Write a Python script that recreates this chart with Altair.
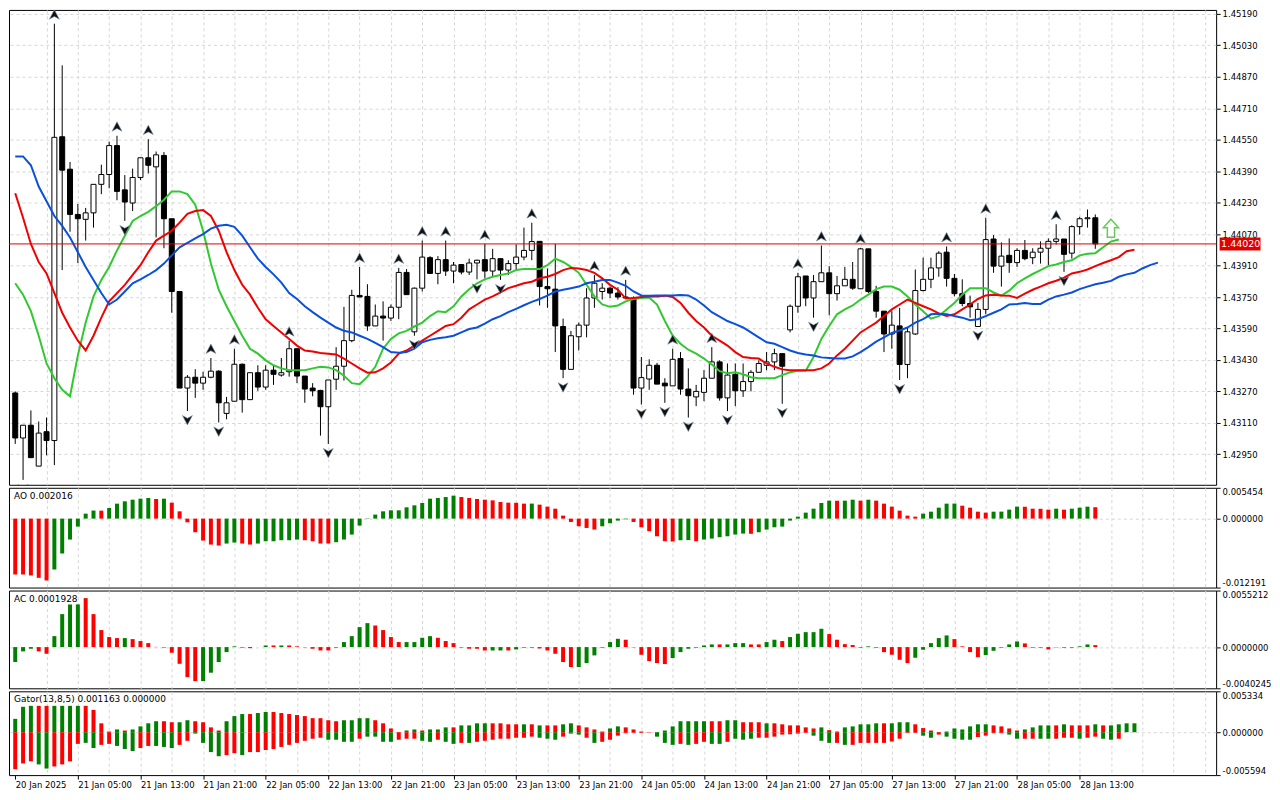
import json
import altair as alt
import pandas as pd

# ------------------------------------------------------------------ data
opens = [1.43262, 1.43033, 1.43098, 1.42890, 1.43065, 1.43020, 1.44565, 1.44400, 1.44170, 1.44145,
         1.44178, 1.44323, 1.44373, 1.44520, 1.44295, 1.44228, 1.44358, 1.44458, 1.44412, 1.44470,
         1.44148, 1.43778, 1.43287, 1.43342, 1.43312, 1.43342, 1.43373, 1.43158, 1.43220, 1.43408,
         1.43228, 1.43365, 1.43292, 1.43378, 1.43353, 1.43370, 1.43487, 1.43348, 1.43287, 1.43275,
         1.43192, 1.43332, 1.43398, 1.43528, 1.43758, 1.43753, 1.43603, 1.43653, 1.43643, 1.43698,
         1.43875, 1.43573, 1.43795, 1.43950, 1.43870, 1.43940, 1.43882, 1.43915, 1.43877, 1.43923,
         1.43940, 1.43882, 1.43945, 1.43887, 1.43920, 1.43953, 1.43987, 1.44033, 1.43803, 1.43790,
         1.43600, 1.43382, 1.43548, 1.43607, 1.43745, 1.43778, 1.43795, 1.43770, 1.43750, 1.43745,
         1.43287, 1.43333, 1.43403, 1.43312, 1.43298, 1.43437, 1.43282, 1.43242, 1.43265, 1.43337,
         1.43420, 1.43237, 1.43357, 1.43273, 1.43320, 1.43367, 1.43403, 1.43420, 1.43462, 1.43583,
         1.43703, 1.43857, 1.43745, 1.43828, 1.43873, 1.43767, 1.43807, 1.43840, 1.43792, 1.43995,
         1.43778, 1.43678, 1.43562, 1.43603, 1.43407, 1.43562, 1.43783, 1.43840, 1.43898, 1.43978,
         1.43845, 1.43767, 1.43717, 1.43600, 1.43687, 1.44045, 1.43907, 1.43962, 1.43925, 1.43987,
         1.43950, 1.43978, 1.43998, 1.44033, 1.44045, 1.43973, 1.44108, 1.44148, 1.44153]
highs = [1.43270, 1.43098, 1.43173, 1.43117, 1.43137, 1.45140, 1.44928, 1.44437, 1.44223, 1.44203,
         1.44323, 1.44423, 1.44540, 1.44570, 1.44370, 1.44403, 1.44458, 1.44553, 1.44490, 1.44487,
         1.44148, 1.43778, 1.43353, 1.43383, 1.43370, 1.43440, 1.43378, 1.43242, 1.43487, 1.43412,
         1.43365, 1.43403, 1.43403, 1.43403, 1.43440, 1.43528, 1.43487, 1.43348, 1.43312, 1.43278,
         1.43328, 1.43495, 1.43700, 1.43787, 1.43903, 1.43815, 1.43712, 1.43728, 1.43712, 1.43898,
         1.43892, 1.43798, 1.44037, 1.43958, 1.43958, 1.44037, 1.43928, 1.43915, 1.43945, 1.43940,
         1.44020, 1.43995, 1.43945, 1.43937, 1.44017, 1.44103, 1.44128, 1.44033, 1.43895, 1.44020,
         1.43640, 1.43578, 1.43620, 1.43795, 1.43862, 1.43820, 1.43803, 1.43800, 1.43837, 1.43753,
         1.43445, 1.43433, 1.43415, 1.43337, 1.43487, 1.43470, 1.43387, 1.43303, 1.43378, 1.43495,
         1.43428, 1.43412, 1.43412, 1.43412, 1.43378, 1.43428, 1.43470, 1.43487, 1.43462, 1.43712,
         1.43873, 1.43857, 1.43862, 1.44012, 1.43907, 1.43857, 1.43903, 1.43928, 1.44000, 1.43995,
         1.43807, 1.43678, 1.43678, 1.43695, 1.43595, 1.43890, 1.43950, 1.43950, 1.43983, 1.44007,
         1.43867, 1.43840, 1.43757, 1.43720, 1.44153, 1.44065, 1.44028, 1.44048, 1.43998, 1.44040,
         1.43998, 1.44033, 1.44048, 1.44120, 1.44045, 1.44115, 1.44158, 1.44195, 1.44170]
lows = [1.43003, 1.42820, 1.42933, 1.42890, 1.42945, 1.42895, 1.43887, 1.44082, 1.43923, 1.44037,
        1.44103, 1.44273, 1.44303, 1.44242, 1.44137, 1.44187, 1.44345, 1.44378, 1.44053, 1.43998,
        1.43670, 1.43287, 1.43170, 1.43237, 1.43278, 1.43337, 1.43112, 1.43128, 1.43220, 1.43162,
        1.43228, 1.43273, 1.43278, 1.43303, 1.43345, 1.43345, 1.43312, 1.43212, 1.43245, 1.43045,
        1.43003, 1.43278, 1.43325, 1.43520, 1.43750, 1.43578, 1.43603, 1.43528, 1.43628, 1.43637,
        1.43762, 1.43553, 1.43778, 1.43867, 1.43815, 1.43857, 1.43820, 1.43865, 1.43862, 1.43840,
        1.43845, 1.43857, 1.43837, 1.43862, 1.43887, 1.43937, 1.43937, 1.43707, 1.43695, 1.43470,
        1.43337, 1.43382, 1.43478, 1.43545, 1.43695, 1.43737, 1.43745, 1.43737, 1.43740, 1.43253,
        1.43203, 1.43278, 1.43307, 1.43212, 1.43298, 1.43253, 1.43137, 1.43195, 1.43220, 1.43337,
        1.43223, 1.43170, 1.43195, 1.43242, 1.43270, 1.43367, 1.43378, 1.43378, 1.43207, 1.43570,
        1.43670, 1.43703, 1.43645, 1.43828, 1.43657, 1.43732, 1.43807, 1.43787, 1.43792, 1.43770,
        1.43645, 1.43470, 1.43487, 1.43328, 1.43337, 1.43557, 1.43778, 1.43795, 1.43853, 1.43803,
        1.43753, 1.43703, 1.43645, 1.43600, 1.43662, 1.43873, 1.43803, 1.43873, 1.43903, 1.43937,
        1.43917, 1.43920, 1.43912, 1.44017, 1.43878, 1.43945, 1.44067, 1.44103, 1.43995]
closes = [1.43033, 1.43098, 1.42933, 1.43058, 1.43020, 1.44562, 1.44395, 1.44170, 1.44148, 1.44178,
          1.44323, 1.44373, 1.44520, 1.44287, 1.44233, 1.44358, 1.44458, 1.44420, 1.44473, 1.44148,
          1.43778, 1.43287, 1.43342, 1.43312, 1.43342, 1.43373, 1.43212, 1.43212, 1.43408, 1.43228,
          1.43365, 1.43292, 1.43378, 1.43357, 1.43365, 1.43487, 1.43348, 1.43282, 1.43273, 1.43192,
          1.43328, 1.43398, 1.43528, 1.43758, 1.43750, 1.43603, 1.43653, 1.43643, 1.43698, 1.43875,
          1.43762, 1.43795, 1.43953, 1.43870, 1.43940, 1.43882, 1.43912, 1.43877, 1.43923, 1.43937,
          1.43882, 1.43945, 1.43887, 1.43920, 1.43953, 1.43987, 1.44032, 1.43803, 1.43792, 1.43603,
          1.43382, 1.43553, 1.43607, 1.43745, 1.43820, 1.43795, 1.43770, 1.43750, 1.43745, 1.43287,
          1.43340, 1.43403, 1.43307, 1.43298, 1.43433, 1.43282, 1.43248, 1.43270, 1.43337, 1.43420,
          1.43237, 1.43353, 1.43273, 1.43320, 1.43367, 1.43412, 1.43420, 1.43462, 1.43398, 1.43703,
          1.43853, 1.43745, 1.43828, 1.43873, 1.43767, 1.43807, 1.43840, 1.43795, 1.43995, 1.43778,
          1.43678, 1.43562, 1.43607, 1.43407, 1.43573, 1.43783, 1.43840, 1.43898, 1.43973, 1.43845,
          1.43767, 1.43717, 1.43700, 1.43687, 1.44042, 1.43907, 1.43958, 1.43925, 1.43987, 1.43945,
          1.43978, 1.43998, 1.44033, 1.44045, 1.43967, 1.44108, 1.44148, 1.44153, 1.44020]

# Alligator (already shifted forward: jaw 8, teeth 5, lips 3 bars)
jaw = [1.44465, 1.44465, 1.44420, 1.44312, 1.44237, 1.44162, 1.44112, 1.44053, 1.43978, 1.43903,
       1.43837, 1.43770, 1.43712, 1.43737, 1.43778, 1.43820, 1.43840, 1.43862, 1.43887, 1.43920,
       1.43962, 1.44003, 1.44025, 1.44048, 1.44070, 1.44098, 1.44112, 1.44117, 1.44107, 1.44062,
       1.44003, 1.43945, 1.43903, 1.43865, 1.43823, 1.43770, 1.43740, 1.43703, 1.43673, 1.43645,
       1.43620, 1.43595, 1.43578, 1.43570, 1.43553, 1.43537, 1.43517, 1.43495, 1.43470, 1.43467,
       1.43470, 1.43487, 1.43520, 1.43532, 1.43540, 1.43545, 1.43553, 1.43570, 1.43587, 1.43595,
       1.43615, 1.43637, 1.43653, 1.43673, 1.43690, 1.43708, 1.43725, 1.43740, 1.43757, 1.43778,
       1.43787, 1.43795, 1.43803, 1.43820, 1.43828, 1.43837, 1.43837, 1.43823, 1.43807, 1.43778,
       1.43758, 1.43757, 1.43758, 1.43758, 1.43758, 1.43760, 1.43758, 1.43737, 1.43707, 1.43673,
       1.43650, 1.43628, 1.43612, 1.43595, 1.43570, 1.43545, 1.43520, 1.43512, 1.43495, 1.43478,
       1.43465, 1.43458, 1.43453, 1.43443, 1.43440, 1.43437, 1.43437, 1.43448, 1.43470, 1.43495,
       1.43523, 1.43545, 1.43567, 1.43580, 1.43595, 1.43620, 1.43637, 1.43662, 1.43665, 1.43662,
       1.43653, 1.43645, 1.43632, 1.43637, 1.43653, 1.43670, 1.43687, 1.43712, 1.43715, 1.43720,
       1.43715, 1.43715, 1.43737, 1.43753, 1.43762, 1.43773, 1.43790, 1.43803, 1.43815, 1.43823,
       1.43832, 1.43853, 1.43865, 1.43873, 1.43895, 1.43912, 1.43925]
teeth = [1.44278, 1.44153, 1.44020, 1.43928, 1.43870, 1.43770, 1.43670, 1.43595, 1.43528, 1.43478,
         1.43553, 1.43645, 1.43728, 1.43770, 1.43812, 1.43862, 1.43912, 1.43978, 1.44037, 1.44062,
         1.44087, 1.44128, 1.44173, 1.44187, 1.44192, 1.44162, 1.44087, 1.43978, 1.43887, 1.43812,
         1.43762, 1.43695, 1.43637, 1.43603, 1.43570, 1.43537, 1.43503, 1.43478, 1.43473, 1.43465,
         1.43462, 1.43458, 1.43437, 1.43412, 1.43387, 1.43365, 1.43367, 1.43387, 1.43417, 1.43462,
         1.43478, 1.43503, 1.43528, 1.43553, 1.43578, 1.43603, 1.43612, 1.43645, 1.43687, 1.43712,
         1.43737, 1.43753, 1.43773, 1.43795, 1.43807, 1.43820, 1.43828, 1.43845, 1.43853, 1.43867,
         1.43887, 1.43898, 1.43895, 1.43887, 1.43873, 1.43845, 1.43812, 1.43787, 1.43742, 1.43745,
         1.43750, 1.43753, 1.43753, 1.43757, 1.43750, 1.43720, 1.43670, 1.43628, 1.43595, 1.43553,
         1.43528, 1.43503, 1.43470, 1.43445, 1.43440, 1.43437, 1.43412, 1.43395, 1.43382, 1.43378,
         1.43378, 1.43378, 1.43378, 1.43387, 1.43412, 1.43453, 1.43487, 1.43528, 1.43570, 1.43595,
         1.43620, 1.43653, 1.43687, 1.43712, 1.43737, 1.43720, 1.43703, 1.43687, 1.43667, 1.43653,
         1.43662, 1.43687, 1.43712, 1.43740, 1.43758, 1.43762, 1.43758, 1.43757, 1.43745, 1.43767,
         1.43787, 1.43803, 1.43820, 1.43833, 1.43848, 1.43870, 1.43878, 1.43890, 1.43907, 1.43923,
         1.43937, 1.43953, 1.43983, 1.43990]
lips = [1.43820, 1.43762, 1.43678, 1.43553, 1.43412, 1.43337, 1.43278, 1.43245, 1.43453, 1.43620,
        1.43753, 1.43837, 1.43903, 1.43987, 1.44062, 1.44137, 1.44162, 1.44183, 1.44212, 1.44245,
        1.44287, 1.44287, 1.44273, 1.44220, 1.44087, 1.43920, 1.43787, 1.43703, 1.43628, 1.43553,
        1.43487, 1.43462, 1.43428, 1.43403, 1.43387, 1.43378, 1.43378, 1.43378, 1.43387, 1.43395,
        1.43392, 1.43378, 1.43350, 1.43312, 1.43307, 1.43345, 1.43395, 1.43487, 1.43537, 1.43565,
        1.43578, 1.43600, 1.43620, 1.43653, 1.43678, 1.43673, 1.43703, 1.43753, 1.43790, 1.43820,
        1.43840, 1.43853, 1.43862, 1.43870, 1.43887, 1.43892, 1.43892, 1.43892, 1.43912, 1.43945,
        1.43928, 1.43903, 1.43873, 1.43812, 1.43753, 1.43712, 1.43700, 1.43707, 1.43728, 1.43740,
        1.43745, 1.43748, 1.43712, 1.43628, 1.43553, 1.43512, 1.43482, 1.43462, 1.43437, 1.43407,
        1.43373, 1.43362, 1.43367, 1.43357, 1.43342, 1.43337, 1.43337, 1.43337, 1.43353, 1.43367,
        1.43375, 1.43375, 1.43445, 1.43537, 1.43603, 1.43662, 1.43687, 1.43707, 1.43737, 1.43762,
        1.43790, 1.43803, 1.43803, 1.43787, 1.43753, 1.43712, 1.43678, 1.43640, 1.43653, 1.43687,
        1.43720, 1.43762, 1.43795, 1.43795, 1.43795, 1.43773, 1.43757, 1.43782, 1.43820, 1.43845,
        1.43867, 1.43887, 1.43907, 1.43915, 1.43928, 1.43937, 1.43962, 1.43970, 1.43973, 1.44003,
        1.44032, 1.44042]

up_fractals = [5, 13, 17, 25, 28, 35, 44, 49, 52, 55, 60, 66, 74, 78, 84, 89, 100, 103, 108, 119, 124, 133]
down_fractals = [1, 14, 22, 26, 40, 51, 59, 62, 70, 80, 83, 86, 91, 98, 102, 113, 123, 134]

ao = [-0.00988, -0.00988, -0.01005, -0.01047, -0.01094, -0.00900, -0.00617, -0.00370, -0.00141, 0.00088,
      0.00143, 0.00141, 0.00188, 0.00265, 0.00306, 0.00335, 0.00353, 0.00365, 0.00347, 0.00353,
      0.00282, 0.00129, -0.00065, -0.00241, -0.00388, -0.00459, -0.00476, -0.00441, -0.00423, -0.00441,
      -0.00459, -0.00441, -0.00400, -0.00400, -0.00382, -0.00382, -0.00370, -0.00382, -0.00400, -0.00441,
      -0.00441, -0.00417, -0.00370, -0.00282, -0.00123, 0.00006, 0.00071, 0.00129, 0.00147, 0.00147,
      0.00200, 0.00235, 0.00276, 0.00353, 0.00365, 0.00382, 0.00406, 0.00382, 0.00365, 0.00347,
      0.00335, 0.00323, 0.00294, 0.00282, 0.00280, 0.00265, 0.00266, 0.00247, 0.00212, 0.00176,
      0.00053, -0.00059, -0.00135, -0.00165, -0.00194, -0.00135, -0.00082, -0.00035, -0.00012, -0.00059,
      -0.00153, -0.00223, -0.00312, -0.00400, -0.00405, -0.00382, -0.00380, -0.00400, -0.00370, -0.00353,
      -0.00329, -0.00312, -0.00282, -0.00265, -0.00268, -0.00241, -0.00194, -0.00153, -0.00141, -0.00035,
      0.00035, 0.00106, 0.00176, 0.00276, 0.00318, 0.00316, 0.00318, 0.00335, 0.00318, 0.00335,
      0.00318, 0.00265, 0.00212, 0.00141, 0.00053, 0.00035, 0.00088, 0.00123, 0.00194, 0.00265,
      0.00266, 0.00229, 0.00194, 0.00123, 0.00106, 0.00123, 0.00124, 0.00159, 0.00212, 0.00210,
      0.00176, 0.00174, 0.00159, 0.00176, 0.00159, 0.00176, 0.00194, 0.00212, 0.002016]
ao_colors = ("RRRRRGGGGG" "GRGGGGGGRG" "RRRRRRRGGR" "RGGGGGGRRR" "RGGGGGGGGG"
             "GGGGGGGRRR" "RRRRRRGRRR" "RRRRRGGGGR" "RRRRRGGRGG" "GGGGRGGGGG"
             "GGGGGRGGRG" "RRRRRRGGGG" "GRRRRGGGGR" "RRRGRGGGR")

ac = [-0.00146, -0.00042, -0.00016, -0.00042, -0.00065, 0.00107, 0.00322, 0.00416, 0.00417, 0.00478,
      0.00322, 0.00166, 0.00098, 0.00088, 0.00088, 0.00078, 0.00059, 0.00039, 0.00002, -0.00005,
      -0.00055, -0.00163, -0.00293, -0.00332, -0.00332, -0.00250, -0.00146, -0.00049, 0.00007, -0.00006,
      -0.00010, 0.00000, 0.00016, 0.00016, 0.00016, 0.00016, 0.00007, -0.00003, -0.00016, -0.00033,
      -0.00033, -0.00006, 0.00049, 0.00107, 0.00195, 0.00234, 0.00211, 0.00166, 0.00098, 0.00049,
      0.00049, 0.00049, 0.00091, 0.00107, 0.00091, 0.00059, 0.00039, -0.00005, -0.00016, -0.00016,
      -0.00033, -0.00033, -0.00033, -0.00033, -0.00023, -0.00006, -0.00006, -0.00013, -0.00033, -0.00065,
      -0.00146, -0.00195, -0.00195, -0.00156, -0.00081, -0.00006, 0.00049, 0.00081, 0.00072, -0.00003,
      -0.00075, -0.00137, -0.00156, -0.00166, -0.00107, -0.00049, -0.00016, -0.00006, 0.00016, 0.00026,
      0.00026, 0.00026, 0.00039, 0.00039, 0.00026, 0.00026, 0.00049, 0.00072, 0.00059, 0.00098,
      0.00130, 0.00146, 0.00146, 0.00179, 0.00127, 0.00072, 0.00029, 0.00020, -0.00006, 0.00007,
      -0.00006, -0.00049, -0.00075, -0.00124, -0.00156, -0.00104, -0.00026, 0.00039, 0.00088, 0.00114,
      0.00078, 0.00007, -0.00049, -0.00098, -0.00078, -0.00036, -0.00006, 0.00026, 0.00055, 0.00036,
      -0.00006, -0.00006, -0.00023, -0.00003, -0.00006, -0.00006, 0.00007, 0.00026, 0.0001928]
ac_colors = ("GGGRRGGGGR" "RRRRGRRRRR" "RRRRGGGGGR" "RGGRGRRRRR" "RGGGGGRRRR"
             "GGGGRRRRRR" "RGGRGGGRRR" "RRGGGGGGRR" "RRRRGGGGGG" "RGGGRRGGRG"
             "GGGGRRRRRG" "RRRRRGGGGG" "RRRRGGGGGR" "RRRGRRGGR")

gator_up = [0.00174, 0.00331, 0.00344, 0.00344, 0.00344, 0.00344, 0.00344, 0.00344, 0.00344, 0.00344,
            0.00291, 0.00116, 0.00009, 0.00036, 0.00022, 0.00036, 0.00076, 0.00116, 0.00143, 0.00143,
            0.00130, 0.00130, 0.00156, 0.00143, 0.00130, 0.00063, 0.00022, 0.00143, 0.00210, 0.00237,
            0.00237, 0.00250, 0.00264, 0.00264, 0.00250, 0.00237, 0.00224, 0.00210, 0.00183, 0.00183,
            0.00156, 0.00143, 0.00156, 0.00156, 0.00183, 0.00183, 0.00156, 0.00116, 0.00049, 0.00002,
            0.00022, 0.00036, 0.00022, 0.00036, 0.00036, 0.00063, 0.00063, 0.00089, 0.00089, 0.00116,
            0.00116, 0.00116, 0.00116, 0.00103, 0.00103, 0.00103, 0.00103, 0.00089, 0.00089, 0.00089,
            0.00103, 0.00116, 0.00089, 0.00063, 0.00036, 0.00009, 0.00049, 0.00076, 0.00063, 0.00036,
            0.00009, 0.00002, 0.00002, 0.00022, 0.00076, 0.00143, 0.00143, 0.00143, 0.00143, 0.00143,
            0.00143, 0.00156, 0.00156, 0.00130, 0.00130, 0.00130, 0.00116, 0.00116, 0.00103, 0.00089,
            0.00089, 0.00063, 0.00049, 0.00063, 0.00027, 0.00009, 0.00063, 0.00076, 0.00103, 0.00103,
            0.00116, 0.00116, 0.00116, 0.00130, 0.00130, 0.00103, 0.00054, 0.00022, 0.00002, 0.00009,
            0.00049, 0.00036, 0.00076, 0.00103, 0.00103, 0.00089, 0.00076, 0.00049, 0.00022, 0.00036,
            0.00063, 0.00089, 0.00089, 0.00089, 0.00103, 0.00089, 0.00089, 0.00089, 0.00103, 0.00089,
            0.00089, 0.00103, 0.00116, 0.001163]
gator_up_colors = ("GGGRRGGGGR" "RRRGRGGGGR" "RGGRRRRGGG" "RGGRRRRRRR" "RRGGGGRRRR"
                   "GGRGGGRGGG" "GRRRRGRGRR" "GGRRRRGGRR" "RRGGGGGGGR" "RGGRRRGRRR"
                   "RRRGRRGGGG" "GRGGGRRRRG" "GGGGGRRRRG" "GGGRGRRRGR" "GGGG")
gator_dn = [-0.00483, -0.00407, -0.00380, -0.00420, -0.00474, -0.00447, -0.00420, -0.00380, -0.00152, -0.00139,
            -0.00206, -0.00165, -0.00152, -0.00179, -0.00219, -0.00246, -0.00206, -0.00179, -0.00179, -0.00192,
            -0.00206, -0.00165, -0.00112, -0.00018, -0.00139, -0.00259, -0.00313, -0.00299, -0.00273, -0.00299,
            -0.00259, -0.00259, -0.00232, -0.00219, -0.00192, -0.00165, -0.00139, -0.00112, -0.00085, -0.00072,
            -0.00098, -0.00098, -0.00125, -0.00125, -0.00085, -0.00058, -0.00058, -0.00125, -0.00125, -0.00098,
            -0.00085, -0.00085, -0.00112, -0.00125, -0.00098, -0.00125, -0.00152, -0.00139, -0.00139, -0.00125,
            -0.00112, -0.00098, -0.00085, -0.00085, -0.00072, -0.00072, -0.00058, -0.00072, -0.00085, -0.00098,
            -0.00058, -0.00018, -0.00031, -0.00072, -0.00139, -0.00125, -0.00098, -0.00045, -0.00013, -0.00009,
            -0.00009, -0.00004, -0.00058, -0.00139, -0.00165, -0.00152, -0.00165, -0.00152, -0.00125, -0.00152,
            -0.00152, -0.00125, -0.00085, -0.00098, -0.00085, -0.00072, -0.00072, -0.00058, -0.00031, -0.00027,
            -0.00018, -0.00009, -0.00045, -0.00112, -0.00139, -0.00139, -0.00165, -0.00165, -0.00139, -0.00139,
            -0.00139, -0.00139, -0.00121, -0.00085, -0.00009, -0.00009, -0.00045, -0.00072, -0.00031, -0.00058,
            -0.00085, -0.00098, -0.00098, -0.00063, -0.00045, -0.00013, -0.00013, -0.00031, -0.00085, -0.00085,
            -0.00085, -0.00085, -0.00085, -0.00085, -0.00072, -0.00072, -0.00085, -0.00072, -0.00058, -0.00085,
            -0.00098, -0.00085]
gator_dn_colors = ("RRRGGRRRRG" "GRRGGGRRGG" "GRRGGGGRRG" "RRRRRRRRRR" "GGGGRGGGGR"
                   "RRGGRGGRGR" "RRRRRRRGGG" "RGGRGRRRRR" "RRGGGRGRRG" "GRGGGRRRRR"
                   "RRGGGRGRRR" "RRRRRRGGRG" "GGGRRRRGGR" "RGGRRRGRRG" "GR")

price_ticks = [1.45190, 1.45030, 1.44870, 1.44710, 1.44550, 1.44390, 1.44230, 1.44070,
               1.43910, 1.43750, 1.43590, 1.43430, 1.43270, 1.43110, 1.42950]
price_domain = [1.42795, 1.45210]
ao_ticks = [-0.012191, 0.0, 0.005454]
ac_ticks = [-0.0040245, 0.0, 0.0055212]
gator_ticks = [-0.005594, 0.0, 0.005334]
time_labels = ["20 Jan 2025", "21 Jan 05:00", "21 Jan 13:00", "21 Jan 21:00", "22 Jan 05:00",
               "22 Jan 13:00", "22 Jan 21:00", "23 Jan 05:00", "23 Jan 13:00", "23 Jan 21:00",
               "24 Jan 05:00", "24 Jan 13:00", "24 Jan 21:00", "27 Jan 05:00", "27 Jan 13:00",
               "27 Jan 21:00", "28 Jan 05:00", "28 Jan 13:00"]
last_price = [1.44020]
last_label = ["1.44020"]
signal_bar = [140]
signal_price = [1.44100]
panel_titles = ["AO 0.002016", "AC 0.0001928", "Gator(13,8,5) 0.001163 0.000000"]

# ------------------------------------------------------------------ styling
FONT = "DejaVu Sans"
FS = 8.5
W = 1210
H_MAIN, H_AO, H_AC, H_GT = 476, 100, 98, 84
GREEN, RED = "#008000", "#ff0000"
GRIDC = "#d6d6d6"
JAW_C, TEETH_C, LIPS_C = "#0a50dc", "#f00000", "#32c832"

xscale = alt.Scale(domain=[-0.16, 152.8], nice=False, zero=False)
grid_vals = list(range(0, 153, 4))
label_expr = ("datum.value % 8 == 0 ? (" + json.dumps(time_labels) +
              "[datum.value / 8] || '') : ''")
grid_op = {"condition": {"test": "datum.value == 0", "value": 0}, "value": 1}
tick_test = f"datum.value % 8 == 0 && datum.value <= {8 * (len(time_labels) - 1)}"


def x_enc(bottom=False):
    if bottom:
        axis = alt.Axis(values=grid_vals, labelExpr=label_expr, labelAlign="left",
                        labelFlush=False, labelOverlap=False, labelPadding=1,
                        tickSize=4, tickColor="black",
                        tickOpacity={"condition": {"test": tick_test, "value": 1}, "value": 0},
                        grid=True, gridDash=[3, 3], gridColor=GRIDC, gridOpacity=grid_op,
                        domain=False, title=None)
    else:
        axis = alt.Axis(values=grid_vals, labels=False, ticks=False, domain=False, title=None,
                        grid=True, gridDash=[3, 3], gridColor=GRIDC, gridOpacity=grid_op)
    return alt.X("bar:Q", scale=xscale, axis=axis)


price_axis = alt.Axis(orient="right", values=price_ticks, format=".5f", title=None,
                      grid=True, gridDash=[3, 3], gridColor=GRIDC, tickSize=4,
                      labelPadding=2, domain=False)
pscale = alt.Scale(domain=price_domain, nice=False, zero=False)


def py(field):
    return alt.Y(f"{field}:Q", scale=pscale, axis=price_axis)


# ------------------------------------------------------------------ main panel
n = len(opens)
candles = pd.DataFrame({"bar": list(range(n)), "open": opens, "high": highs,
                        "low": lows, "close": closes})
candles["dir"] = ["up" if c >= o else "down" for o, c in zip(opens, closes)]

xm = x_enc()
wicks = alt.Chart(candles).mark_rule(color="black", strokeWidth=1).encode(
    x=xm, y=py("low"), y2="high:Q")
bodies = alt.Chart(candles).mark_bar(size=5, stroke="black", strokeWidth=1).encode(
    x=xm, y=py("open"), y2="close:Q",
    fill=alt.Fill("dir:N", scale=alt.Scale(domain=["up", "down"], range=["white", "black"]), legend=None))


def line_layer(vals, color):
    df = pd.DataFrame({"bar": list(range(len(vals))), "v": vals})
    return alt.Chart(df).mark_line(color=color, strokeWidth=2).encode(x=xm, y=py("v"))


jaw_l = line_layer(jaw, JAW_C)
teeth_l = line_layer(teeth, TEETH_C)
lips_l = line_layer(lips, LIPS_C)

up_df = pd.DataFrame({"bar": up_fractals, "p": [highs[i] for i in up_fractals]})
dn_df = pd.DataFrame({"bar": down_fractals, "p": [lows[i] for i in down_fractals]})
UP_SHAPE = "M0,-2.8 L1,-0.9 L0,-1.45 L-1,-0.9 Z"
DN_SHAPE = "M0,2.8 L1,0.9 L0,1.45 L-1,0.9 Z"
up_pts = alt.Chart(up_df).mark_point(shape=UP_SHAPE, size=100, filled=True, fill="#111111",
                                     stroke="#8095b0", strokeWidth=0.6, opacity=1,
                                     clip=True).encode(x=xm, y=py("p"))
dn_pts = alt.Chart(dn_df).mark_point(shape=DN_SHAPE, size=100, filled=True, fill="#111111",
                                     stroke="#8095b0", strokeWidth=0.6, opacity=1,
                                     clip=True).encode(x=xm, y=py("p"))

last_df = pd.DataFrame({"price": last_price, "label": last_label})
last_rule = alt.Chart(last_df).mark_rule(color="#e00000", strokeWidth=1).encode(y=py("price"))
last_tag = alt.Chart(last_df).mark_tick(orient="horizontal", size=41, thickness=13,
                                        color="#e00000", opacity=1).encode(
    x=alt.value(W + 24), y=py("price"))
last_txt = alt.Chart(last_df).mark_text(align="left", baseline="middle", color="white",
                                        font=FONT, fontSize=FS + 1).encode(
    x=alt.value(W + 5), y=py("price"), text="label:N")

ARROW = "M0,-1 L0.85,-0.05 L0.4,-0.05 L0.4,1 L-0.4,1 L-0.4,-0.05 L-0.85,-0.05 Z"
sig_df = pd.DataFrame({"bar": signal_bar, "p": signal_price})
sig = alt.Chart(sig_df).mark_point(shape=ARROW, size=324, filled=False, fill="white",
                                   stroke="#66cc55", strokeWidth=1.5, opacity=1).encode(
    x=xm, y=py("p"))

main = alt.layer(wicks, bodies, lips_l, teeth_l, jaw_l, last_rule, up_pts, dn_pts, sig,
                 last_tag, last_txt).properties(width=W, height=H_MAIN)


# ------------------------------------------------------------------ indicator panels
def ind_axis(ticks, dec):
    return alt.Axis(orient="right", values=ticks, title=None,
                    labelExpr=f"replace(format(datum.value, '.{dec}f'), '\u2212', '-')",
                    labelFlush=True, tickSize=4, labelPadding=2, domain=False,
                    grid=True, gridDash=[3, 3], gridColor=GRIDC,
                    gridOpacity={"condition": {"test": "datum.value == 0", "value": 1}, "value": 0})


col_scale = alt.Scale(domain=["G", "R"], range=[GREEN, RED])


def hist(vals, cols, ticks, dec, xe):
    df = pd.DataFrame({"bar": list(range(len(vals))), "v": vals, "c": list(cols)})
    return alt.Chart(df).mark_bar(size=4).encode(
        x=xe,
        y=alt.Y("v:Q", scale=alt.Scale(domain=[ticks[0], ticks[-1]], nice=False, zero=False),
                axis=ind_axis(ticks, dec)),
        y2=alt.datum(0),
        color=alt.Color("c:N", scale=col_scale, legend=None))


def title_layer(t):
    df = pd.DataFrame({"t": [t]})
    return alt.Chart(df).mark_text(align="left", baseline="top", font=FONT, fontSize=FS + 0.5,
                                   color="black").encode(
        x=alt.value(5), y=alt.value(4), text="t:N")


ao_chart = alt.layer(hist(ao, ao_colors, ao_ticks, 6, x_enc()), title_layer(panel_titles[0])
                     ).properties(width=W, height=H_AO)
ac_chart = alt.layer(hist(ac, ac_colors, ac_ticks, 7, x_enc()), title_layer(panel_titles[1])
                     ).properties(width=W, height=H_AC)
xb = x_enc(bottom=True)
gt_chart = alt.layer(hist(gator_up, gator_up_colors, gator_ticks, 6, xb),
                     hist(gator_dn, gator_dn_colors, gator_ticks, 6, xb),
                     title_layer(panel_titles[2])).properties(width=W, height=H_GT)

chart = alt.vconcat(main, ao_chart, ac_chart, gt_chart, spacing=3, bounds="flush").properties(
    padding={"left": 0, "top": 0, "right": 0, "bottom": 0}
).configure_view(stroke="black", strokeWidth=1).configure_axis(
    labelFont=FONT, labelFontSize=FS, labelColor="black", tickColor="black"
).resolve_scale(color="independent")

chart.save("out.html", embed_options={"renderer": "svg", "actions": False})
